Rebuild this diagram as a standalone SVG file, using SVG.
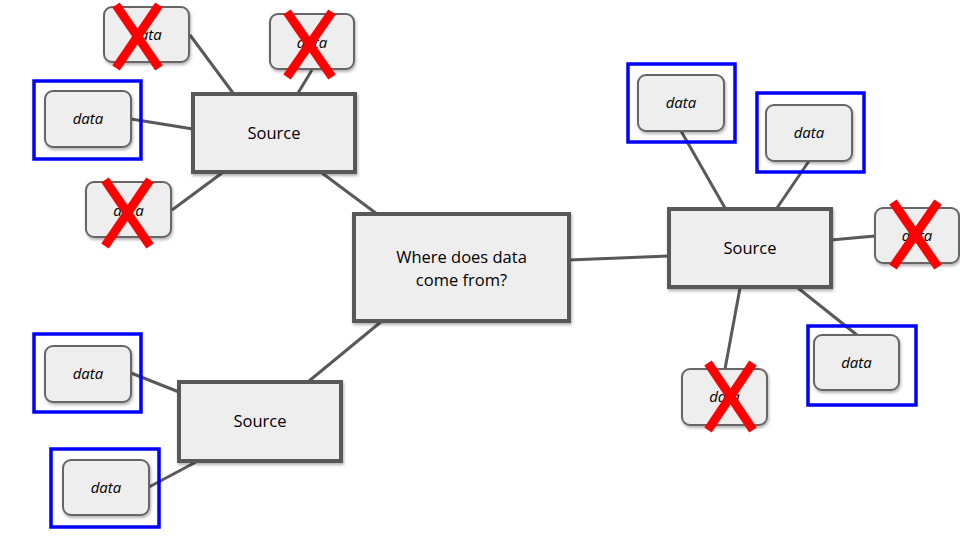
<svg xmlns="http://www.w3.org/2000/svg" width="960" height="540" viewBox="0 0 960 540">
<defs>
<filter id="sh" x="-10%" y="-10%" width="130%" height="140%">
<feDropShadow dx="1" dy="2" stdDeviation="1.5" flood-color="#000" flood-opacity="0.3"/>
</filter>
</defs>
<style>
.data{fill:#eeeeee;stroke:#666666;stroke-width:2;filter:url(#sh)}
.src{fill:#eeeeee;stroke:#595959;stroke-width:4;filter:url(#sh)}
.dt{font-family:"Open Sans","Liberation Sans",sans-serif;font-style:italic;font-size:15px;fill:#000;text-anchor:middle}
.st{font-family:"Open Sans","Liberation Sans",sans-serif;font-size:16.5px;fill:#000;text-anchor:middle}
.conn line{stroke:#595959;stroke-width:3}
.hl{fill:none;stroke:#0000ff;stroke-width:3.5}
.x line{stroke:#ff0000;stroke-width:9}
</style>
<rect width="960" height="540" fill="#ffffff"/>
<g id="connectors" class="conn">
<line x1="190" y1="35" x2="233" y2="93"/>
<line x1="312" y1="70" x2="298" y2="93"/>
<line x1="131" y1="119" x2="193" y2="129"/>
<line x1="172" y1="210" x2="222" y2="173"/>
<line x1="322" y1="173" x2="377" y2="214"/>
<line x1="131" y1="373" x2="179" y2="392"/>
<line x1="149" y1="487" x2="196" y2="462"/>
<line x1="309" y1="381" x2="382" y2="321"/>
<line x1="569" y1="260" x2="669" y2="256"/>
<line x1="681" y1="131" x2="725" y2="208"/>
<line x1="809" y1="161" x2="777" y2="208"/>
<line x1="875" y1="236" x2="831" y2="240"/>
<line x1="725" y1="369" x2="740" y2="288"/>
<line x1="857" y1="335" x2="798" y2="288"/>
</g>
<g id="center">
<rect class="src" x="354" y="214" width="215" height="107"/>
<text class="st" x="461.5" y="263">Where does data</text>
<text class="st" x="461.5" y="286">come from?</text>
</g>
<g id="source-top">
<rect class="src" x="193" y="94" width="162" height="78"/>
<text class="st" x="274" y="139">Source</text>
</g>
<g id="source-bottom">
<rect class="src" x="179" y="382" width="162" height="79"/>
<text class="st" x="260" y="427">Source</text>
</g>
<g id="source-right">
<rect class="src" x="669" y="209" width="162" height="78"/>
<text class="st" x="750" y="254">Source</text>
</g>
<g id="data-tl1">
<rect class="data" x="104" y="7" width="85" height="55" rx="8"/>
<text class="dt" x="146.5" y="40">data</text>
</g>
<g id="data-tl2">
<rect class="data" x="270" y="14" width="84" height="55" rx="8"/>
<text class="dt" x="312" y="48">data</text>
</g>
<g id="data-tl3">
<rect class="data" x="45" y="91" width="86" height="56" rx="8"/>
<text class="dt" x="88" y="124">data</text>
</g>
<g id="data-tl4">
<rect class="data" x="86" y="182" width="85" height="55" rx="8"/>
<text class="dt" x="128.5" y="216">data</text>
</g>
<g id="data-bl1">
<rect class="data" x="45" y="346" width="86" height="56" rx="8"/>
<text class="dt" x="88" y="379">data</text>
</g>
<g id="data-bl2">
<rect class="data" x="63" y="460" width="86" height="55" rx="8"/>
<text class="dt" x="106" y="493">data</text>
</g>
<g id="data-r1">
<rect class="data" x="638" y="75" width="86" height="56" rx="8"/>
<text class="dt" x="681" y="108">data</text>
</g>
<g id="data-r2">
<rect class="data" x="766" y="105" width="86" height="56" rx="8"/>
<text class="dt" x="809" y="138">data</text>
</g>
<g id="data-r3">
<rect class="data" x="875" y="208" width="84" height="55" rx="8"/>
<text class="dt" x="917" y="241">data</text>
</g>
<g id="data-r4">
<rect class="data" x="814" y="335" width="85" height="55" rx="8"/>
<text class="dt" x="856.5" y="368">data</text>
</g>
<g id="data-r5">
<rect class="data" x="682" y="369" width="85" height="56" rx="8"/>
<text class="dt" x="724.5" y="402">data</text>
</g>
<g id="highlights">
<rect class="hl" x="34" y="81" width="107" height="78"/>
<rect class="hl" x="34" y="334" width="107" height="78"/>
<rect class="hl" x="51" y="449" width="108" height="78"/>
<rect class="hl" x="628" y="64" width="107" height="78"/>
<rect class="hl" x="757" y="93" width="107" height="79"/>
<rect class="hl" x="808" y="326" width="108" height="79"/>
</g>
<g id="crosses" class="x">
<line x1="116" y1="5" x2="159" y2="68"/><line x1="159" y1="5" x2="116" y2="68"/>
<line x1="287" y1="12" x2="332" y2="77"/><line x1="332" y1="12" x2="287" y2="77"/>
<line x1="105" y1="180" x2="150" y2="246"/><line x1="150" y1="180" x2="105" y2="246"/>
<line x1="893" y1="202" x2="938" y2="267"/><line x1="938" y1="202" x2="893" y2="267"/>
<line x1="708" y1="363" x2="753" y2="430"/><line x1="753" y1="363" x2="708" y2="430"/>
</g>
</svg>
